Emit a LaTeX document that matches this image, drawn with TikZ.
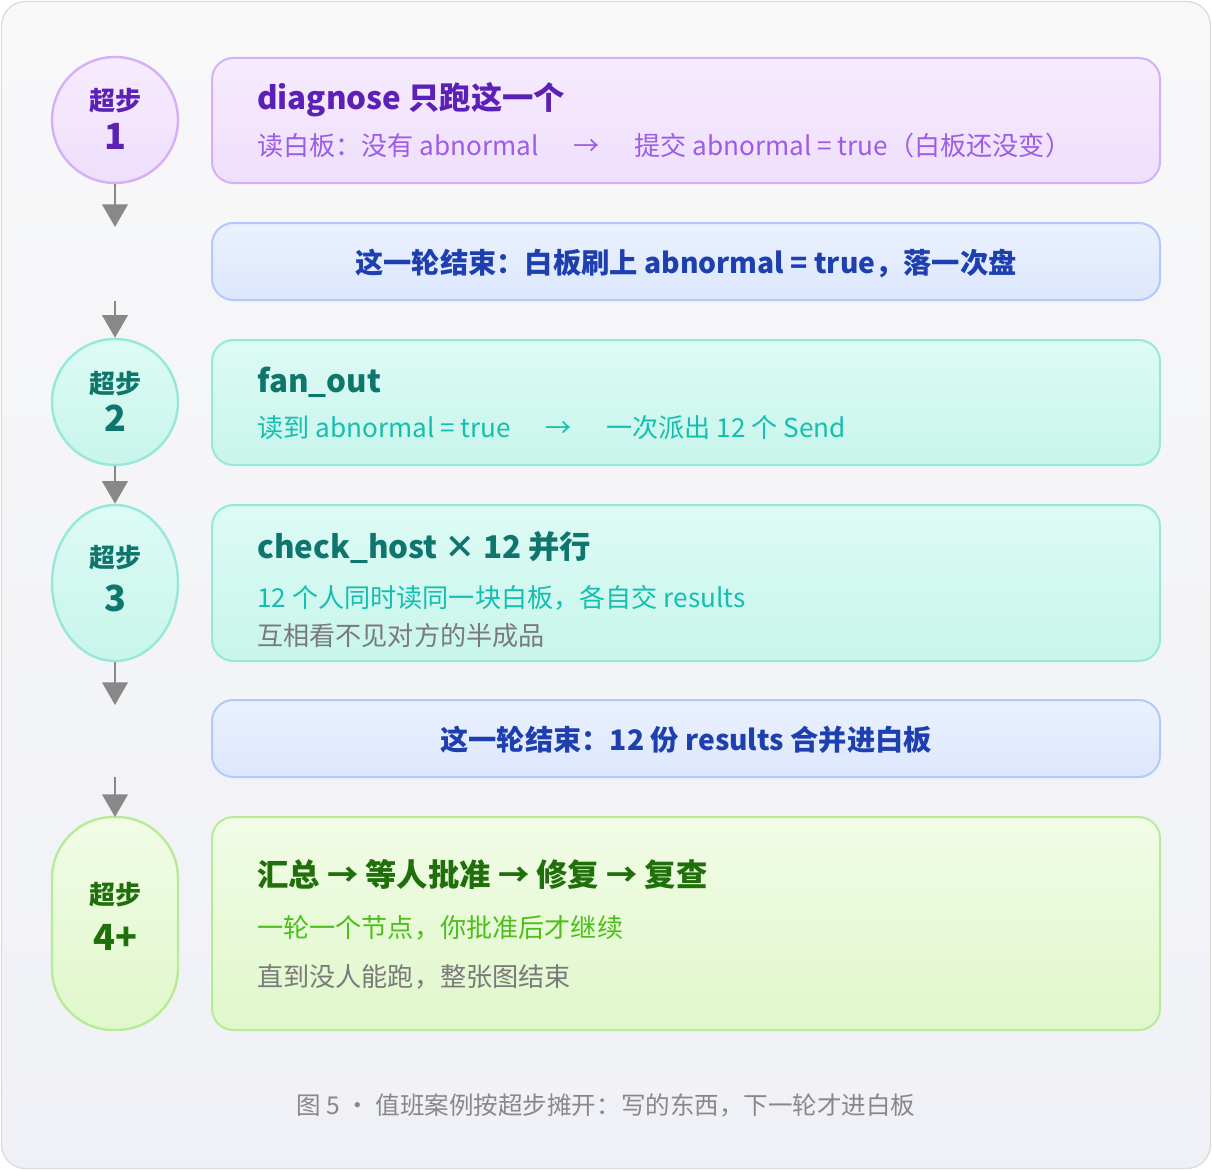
\documentclass[tikz,border=0pt]{standalone}
\usepackage{fontspec}
\setmainfont{Noto Sans CJK SC}
\usetikzlibrary{arrows.meta,shapes.geometric}
\definecolor{pA}{HTML}{5B21B6}\definecolor{pB}{HTML}{9D5CE6}
\definecolor{tA}{HTML}{0F766E}\definecolor{tB}{HTML}{14BFB0}
\definecolor{gA}{HTML}{1F6F0A}\definecolor{gB}{HTML}{4CBF1A}
\definecolor{bA}{HTML}{1E40AF}\definecolor{gr}{HTML}{7A7A7A}
\definecolor{bgT}{HTML}{F8F8F9}\definecolor{bgB}{HTML}{F0F1F6}\definecolor{bgD}{HTML}{DDDDDD}
\definecolor{pT}{HTML}{F7EBFE}\definecolor{pBt}{HTML}{EEDFFB}\definecolor{pD}{HTML}{D6B0F7}
\definecolor{uT}{HTML}{EAF1FE}\definecolor{uB}{HTML}{DDE7FD}\definecolor{uD}{HTML}{B3C9FB}
\definecolor{eT}{HTML}{DDFBF5}\definecolor{eB}{HTML}{C8F5EB}\definecolor{eD}{HTML}{95E8DA}
\definecolor{nT}{HTML}{F1FCE6}\definecolor{nB}{HTML}{E0F7CB}\definecolor{nD}{HTML}{B8EB98}
\definecolor{arC}{HTML}{888888}
\tikzset{
 box/.style={draw, line width=1.5pt, rounded corners=16pt},
 purp/.style={top color=pT, bottom color=pBt, draw=pD},
 blu/.style={top color=uT, bottom color=uB, draw=uD},
 teal/.style={top color=eT, bottom color=eB, draw=eD},
 grn/.style={top color=nT, bottom color=nB, draw=nD},
 ttl/.style={anchor=west, font=\fontsize{23.5}{26}\selectfont\bfseries, inner sep=0},
 sub/.style={anchor=west, font=\fontsize{19.6}{22}\selectfont, inner sep=0},
 arr/.style={draw=arC, line width=2.2pt, -{Triangle[width=19pt,length=17pt]}},
 cl/.style={align=center, font=\fontsize{19.5}{22}\selectfont\bfseries, inner sep=0},
 num/.style={font=\fontsize{27}{30}\selectfont\bfseries},
 bl/.style={font=\fontsize{21.2}{24}\selectfont\bfseries, text=bA}
}
\begin{document}
\begin{tikzpicture}[x=0.75pt,y=-0.75pt]
\useasboundingbox (0,0) rectangle (1212,1170);
\draw[rounded corners=18pt, top color=bgT, bottom color=bgB, draw=bgD, line width=1pt] (1.5,1.5) rectangle (1210.5,1168.5);
% step 1
\draw[box,purp] (212,58) rectangle (1160,183);
\node[ttl,text=pA] (t1) at (257,100) {diagnose 只跑这一个};
\node[sub,text=pB] (s1) at (257,146) {读白板：没有 abnormal\hspace{26pt}→\hspace{26pt}提交 abnormal = true（白板还没变）};
\node[circle, minimum size=94.5pt, line width=1.8pt, purp, draw, inner sep=0] (c1) at (115,120) {};
\node[cl,text=pA] (l1) at (115,101) {超步};
\node[num,text=pA] (n1) at (115,136) {1};
% blue 1
\draw[box,blu] (212,223) rectangle (1160,300);
\node[bl] (b1) at (686,263) {这一轮结束：白板刷上 abnormal = true，落一次盘};
% step 2
\draw[box,teal] (212,340) rectangle (1160,465);
\node[ttl,text=tA] (t2) at (257,382) {fan\_out};
\node[sub,text=tB] (s2) at (257,428) {读到 abnormal = true\hspace{26pt}→\hspace{26pt}一次派出 12 个 Send};
\node[circle, minimum size=94.5pt, line width=1.8pt, teal, draw, inner sep=0] (c2) at (115,402) {};
\node[cl,text=tA] (l2) at (115,384) {超步};
\node[num,text=tA] (n2) at (115,418) {2};
% step 3
\draw[box,teal] (212,505) rectangle (1160,661);
\node[ttl,text=tA] (t3) at (257,548) {check\_host × 12 并行};
\node[sub,text=tB] (s3) at (257,598) {12 个人同时读同一块白板，各自交 results};
\node[sub,text=gr] (g3) at (257,636) {互相看不见对方的半成品};
\node[ellipse, minimum width=94.5pt, minimum height=117pt, line width=1.8pt, teal, draw, inner sep=0] (c3) at (115,583) {};
\node[cl,text=tA] (l3) at (115,558) {超步};
\node[num,text=tA] (n3) at (115,598) {3};
% blue 2
\draw[box,blu] (212,700) rectangle (1160,777);
\node[bl] (b2) at (686,740) {这一轮结束：12 份 results 合并进白板};
% step 4
\draw[box,grn] (212,817) rectangle (1160,1030);
\node[ttl,text=gA] (t4) at (257,874) {汇总 → 等人批准 → 修复 → 复查};
\node[sub,text=gB] (s4) at (257,928) {一轮一个节点，你批准后才继续};
\node[sub,text=gr] (g4) at (257,977) {直到没人能跑，整张图结束};
\draw[grn, line width=1.8pt, rounded corners=46pt] (52,817) rectangle (178,1030);
\coordinate (c4) at (115,817);
\node[cl,text=gA] (l4) at (115,895) {超步};
\node[num,text=gA] (n4) at (115,937) {4+};
% arrows
\coordinate (a1) at (115,227);
\coordinate (a2s) at (115,301);
\coordinate (a4s) at (115,777);
\coordinate (a3) at (115,705);
\draw[arr] (c1.south) -- (a1);
\draw[arr] (a2s) -- (c2.north);
\draw[arr] (c2.south) -- (c3.north);
\draw[arr] (c3.south) -- (a3);
\draw[arr] (a4s) -- (c4);
% caption
\node[font=\fontsize{18.4}{21}\selectfont, text=arC] (cap) at (606,1105) {图 5 · 值班案例按超步摊开：写的东西，下一轮才进白板};
\end{tikzpicture}
\end{document}
